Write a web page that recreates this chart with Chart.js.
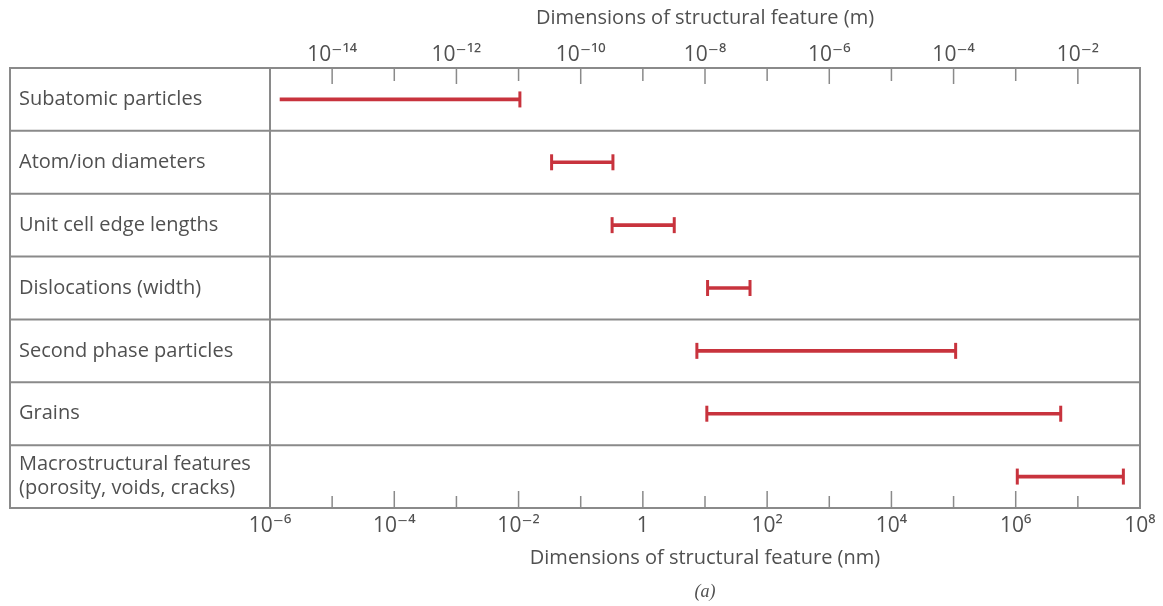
<!DOCTYPE html>
<html>
<head>
<meta charset="utf-8">
<script src="https://cdn.jsdelivr.net/npm/chart.js@4"></script>
<style>
  html, body { margin: 0; padding: 0; background: #ffffff; }
  #wrap { width: 1163px; height: 606px; }
</style>
</head>
<body>
<div id="wrap"><canvas id="c" width="1163" height="606"></canvas></div>
<script>
// ---- data (sizes in nm) ----
const categories = [
  'Subatomic particles',
  'Atom/ion diameters',
  'Unit cell edge lengths',
  'Dislocations (width)',
  'Second phase particles',
  'Grains',
  ['Macrostructural features', '(porosity, voids, cracks)']
];
const rangeMin = [1.45e-6, 0.034, 0.32, 11, 7.4, 10.7, 1.06e6];
const rangeMax = [1.05e-2, 0.33, 3.2, 53, 1.08e5, 5.3e6, 5.4e7];
const hasLeftCap = [false, true, true, true, true, true, true];
const nmExponents = [-6, -5, -4, -3, -2, -1, 0, 1, 2, 3, 4, 5, 6, 7, 8];
const mOffset = -9; // 1 nm = 10^-9 m
const panelLabel = '(a)';

const axisMinNm = 1e-6, axisMaxNm = 1e8;

const RED = '#c8333d';
const LINE = '#8a8a8a';
const TEXT = '#505050';
const FONT = "'Open Sans', 'DejaVu Sans', sans-serif";

const SUP = {'-': '\u207B', '0': '\u2070', '1': '\u00B9', '2': '\u00B2', '3': '\u00B3',
  '4': '\u2074', '5': '\u2075', '6': '\u2076', '7': '\u2077', '8': '\u2078', '9': '\u2079'};
function pow10Label(e) {
  if (e === 0) return '1';
  return '10' + String(e).split('').map(ch => SUP[ch]).join('');
}
function decadeTicks(scale) {
  scale.ticks = nmExponents.map(e => ({ value: Math.pow(10, e) }));
}

const framePlugin = {
  id: 'frame',
  beforeDatasetsDraw(chart) {
    const { ctx, chartArea, scales } = chart;
    const y = scales.y, x = scales.x;
    const tableLeft = 10;
    ctx.save();
    ctx.strokeStyle = LINE;
    ctx.lineWidth = 2;
    ctx.strokeRect(tableLeft, chartArea.top, chartArea.right - tableLeft, chartArea.bottom - chartArea.top);
    ctx.beginPath();
    ctx.moveTo(chartArea.left, chartArea.top);
    ctx.lineTo(chartArea.left, chartArea.bottom);
    for (let i = 0; i < categories.length - 1; i++) {
      const yy = (y.getPixelForValue(i) + y.getPixelForValue(i + 1)) / 2;
      ctx.moveTo(tableLeft, yy);
      ctx.lineTo(chartArea.right, yy);
    }
    ctx.stroke();
    ctx.lineWidth = 1.5;
    ctx.beginPath();
    nmExponents.forEach(e => {
      const px = x.getPixelForValue(Math.pow(10, e));
      if (px <= chartArea.left + 1 || px >= chartArea.right - 1) return;
      const bottomLen = (e % 2 === 0) ? 17 : 12;
      ctx.moveTo(px, chartArea.bottom);
      ctx.lineTo(px, chartArea.bottom - bottomLen);
      const topLen = ((e + mOffset) % 2 === 0) ? 16 : 13;
      ctx.moveTo(px, chartArea.top);
      ctx.lineTo(px, chartArea.top + topLen);
    });
    ctx.stroke();
    ctx.restore();
  },
  afterDraw(chart) {
    const { ctx, chartArea } = chart;
    ctx.save();
    ctx.fillStyle = TEXT;
    ctx.font = "italic 18px 'Liberation Serif', serif";
    ctx.textAlign = 'center';
    ctx.textBaseline = 'middle';
    ctx.fillText(panelLabel, (chartArea.left + chartArea.right) / 2, 592);
    ctx.restore();
  }
};

new Chart(document.getElementById('c'), {
  type: 'bar',
  data: {
    labels: categories,
    datasets: [
      {
        type: 'bar',
        indexAxis: 'y',
        xAxisID: 'x', yAxisID: 'y',
        data: categories.map((c, i) => [rangeMin[i], rangeMax[i]]),
        backgroundColor: RED,
        borderWidth: 0,
        barThickness: 3,
        borderSkipped: false
      },
      {
        type: 'scatter',
        xAxisID: 'x', yAxisID: 'y',
        data: categories.map((c, i) => ({ x: rangeMax[i], y: c })),
        pointStyle: 'line', rotation: 90, radius: 8, hoverRadius: 8,
        borderColor: RED, borderWidth: 3, showLine: false
      },
      {
        type: 'scatter',
        xAxisID: 'x', yAxisID: 'y',
        data: categories.map((c, i) => ({ x: rangeMin[i], y: c })).filter((p, i) => hasLeftCap[i]),
        pointStyle: 'line', rotation: 90, radius: 8, hoverRadius: 8,
        borderColor: RED, borderWidth: 3, showLine: false
      }
    ]
  },
  options: {
    responsive: false,
    devicePixelRatio: 1,
    animation: false,
    events: [],
    layout: { padding: { left: 19, right: 23, top: 0, bottom: 0 } },
    plugins: {
      legend: { display: false },
      tooltip: { enabled: false },
      title: { display: false }
    },
    scales: {
      y: {
        type: 'category',
        position: 'left',
        offset: true,
        grid: { display: false },
        border: { display: false },
        ticks: { crossAlign: 'far', color: TEXT, font: { family: FONT, size: 20 }, padding: 0 },
        afterFit(scale) { scale.width = 251; }
      },
      x: {
        type: 'logarithmic',
        position: 'bottom',
        min: axisMinNm, max: axisMaxNm,
        afterBuildTicks: decadeTicks,
        afterFit(scale) { scale.height = 98; },
        grid: { drawOnChartArea: false, drawTicks: false },
        border: { display: false },
        ticks: {
          autoSkip: false, maxRotation: 0, minRotation: 0, padding: 5,
          color: TEXT, font: { family: FONT, size: 21 },
          callback(value) {
            const e = Math.round(Math.log10(value));
            return (e % 2 === 0) ? pow10Label(e) : '';
          }
        },
        title: {
          display: true, text: 'Dimensions of structural feature (nm)', color: TEXT,
          font: { family: FONT, size: 20 }, padding: { top: 0, bottom: 36 }
        }
      },
      x2: {
        type: 'logarithmic',
        position: 'top',
        min: axisMinNm, max: axisMaxNm,
        afterBuildTicks: decadeTicks,
        afterFit(scale) { scale.height = 68; },
        grid: { drawOnChartArea: false, drawTicks: false },
        border: { display: false },
        ticks: {
          autoSkip: false, maxRotation: 0, minRotation: 0, padding: 0,
          color: TEXT, font: { family: FONT, size: 21 },
          callback(value) {
            const e = Math.round(Math.log10(value)) + mOffset;
            return (e % 2 === 0) ? pow10Label(e) : '';
          }
        },
        title: {
          display: true, text: 'Dimensions of structural feature (m)', color: TEXT,
          font: { family: FONT, size: 20 }, padding: { top: 6, bottom: 0 }
        }
      }
    }
  },
  plugins: [framePlugin]
});
</script>
</body>
</html>
